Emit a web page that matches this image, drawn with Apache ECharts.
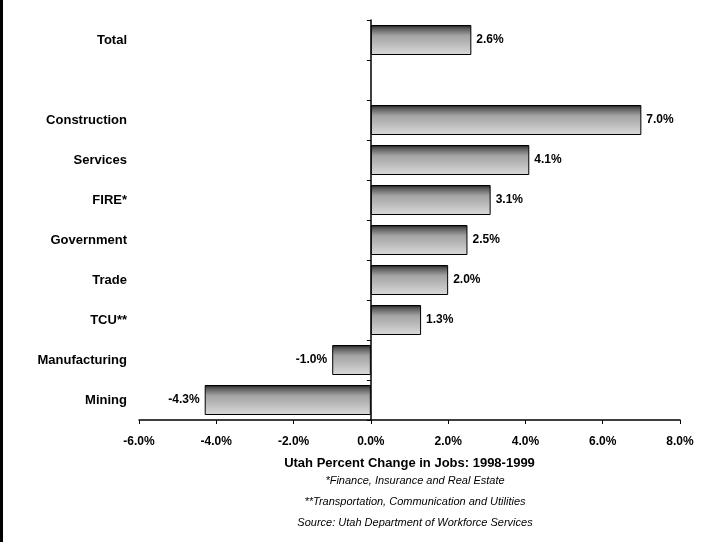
<!DOCTYPE html>
<html>
<head>
<meta charset="utf-8">
<script src="https://cdn.jsdelivr.net/npm/echarts@6/dist/echarts.min.js"></script>
<style>
	html, body { margin: 0; padding: 0; background: #fff; }
	#chart { width: 701px; height: 542px; }
</style>
</head>
<body>
<div id="chart"></div>
<script>
	// top to bottom, the empty slot is the gap under Total
	const categories = ['Total', '', 'Construction', 'Services', 'FIRE*', 'Government', 'Trade', 'TCU**', 'Manufacturing', 'Mining']
	const changes = [2.6, null, 7.0, 4.1, 3.1, 2.5, 2.0, 1.3, -1.0, -4.3]
	const xTicks = { min: -6, max: 8, step: 2 }
	const axisTitle = 'Utah Percent Change in Jobs: 1998-1999'
	const notes = [
		'*Finance, Insurance and Real Estate',
		'**Transportation, Communication and Utilities',
		'Source: Utah Department of Workforce Services'
	]

	const font = 'Liberation Sans, Arial, sans-serif'
	const barFill = new echarts.graphic.LinearGradient(0, 0, 0, 1, [
		{ offset: 0, color: '#111' },
		{ offset: 0.1, color: '#555' },
		{ offset: 0.35, color: '#a2a2a2' },
		{ offset: 1, color: '#dadada' }
	])

	const barData = changes.map(v => {
		if (v === null) return null
		return { value: v, label: { position: v < 0 ? 'left' : 'right' } }
	})

	const chart = echarts.init(document.getElementById('chart'))
	chart.setOption({
		animation: false,
		backgroundColor: '#fff',
		grid: { left: 139, right: 21, top: 20, bottom: 122, containLabel: false },
		title: notes.map((t, i) => ({
			text: t,
			left: 410,
			top: 470 + i * 21,
			textAlign: 'center',
			textStyle: { fontFamily: font, fontSize: 11, fontStyle: 'italic', fontWeight: 'normal', color: '#000' }
		})),
		graphic: [{
			type: 'rect',
			shape: { x: 0, y: 0, width: 3, height: 542 },
			style: { fill: '#000' }
		}],
		xAxis: {
			type: 'value',
			min: xTicks.min,
			max: xTicks.max,
			interval: xTicks.step,
			name: axisTitle,
			nameLocation: 'middle',
			nameGap: 37,
			nameTextStyle: { fontFamily: font, fontSize: 13, fontWeight: 'bold', color: '#000' },
			splitLine: { show: false },
			axisLine: { show: true, lineStyle: { color: '#000', width: 1.5 } },
			axisTick: { show: true, length: 4, lineStyle: { color: '#000' } },
			axisLabel: {
				margin: 16,
				fontFamily: font, fontSize: 12, fontWeight: 'bold', color: '#000',
				formatter: v => v.toFixed(1) + '%'
			}
		},
		yAxis: [{
			type: 'category',
			data: categories,
			inverse: true,
			position: 'left',
			axisLine: { show: false, onZero: false },
			axisTick: { show: false },
			axisLabel: { margin: 12, fontFamily: font, fontSize: 13, fontWeight: 'bold', color: '#000' }
		}, {
			type: 'category',
			data: categories,
			inverse: true,
			position: 'left',
			axisLine: { show: true, onZero: true, lineStyle: { color: '#000', width: 1.5 } },
			axisTick: { show: true, length: 4, lineStyle: { color: '#000' } },
			axisLabel: { show: false }
		}],
		series: [{
			type: 'bar',
			yAxisIndex: 0,
			data: barData,
			barWidth: '75%',
			itemStyle: { color: barFill, borderColor: '#000', borderWidth: 1 },
			label: {
				show: true,
				distance: 5,
				fontFamily: font, fontSize: 12, fontWeight: 'bold', color: '#000',
				formatter: p => p.value.toFixed(1) + '%'
			}
		}]
	})
</script>
</body>
</html>
